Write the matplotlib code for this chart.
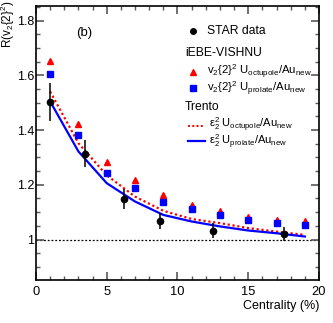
#!/usr/bin/env python3
# -*- coding: utf-8 -*-

import numpy as np
import matplotlib
matplotlib.use("Agg")
import matplotlib.pyplot as plt
from matplotlib.ticker import MultipleLocator, FixedLocator

plt.rcParams['font.family'] = ['Liberation Sans', 'DejaVu Sans']
plt.rcParams['mathtext.fontset'] = 'custom'
plt.rcParams['mathtext.rm'] = 'Liberation Sans'
plt.rcParams['mathtext.it'] = 'Liberation Sans:italic'
plt.rcParams['mathtext.bf'] = 'Liberation Sans:bold'

# STAR data
star_x = [1.0, 3.5, 6.25, 8.75, 12.5, 17.5]
star_y = [1.503, 1.314, 1.148, 1.068, 1.032, 1.020]
star_err = [0.070, 0.050, 0.037, 0.030, 0.027, 0.025]

# iEBE-VISHNU model points
model_x = [1, 3, 5, 7, 9, 11, 13, 15, 17, 19]
vish_oct = [1.651, 1.423, 1.282, 1.216, 1.163, 1.127, 1.104, 1.084, 1.073, 1.066]
vish_pro = [1.606, 1.383, 1.245, 1.189, 1.139, 1.111, 1.089, 1.072, 1.062, 1.054]

# Trento curves
trento_oct = [1.541, 1.352, 1.235, 1.157, 1.105, 1.075, 1.060, 1.042, 1.029, 1.017]
trento_pro = [1.505, 1.322, 1.206, 1.139, 1.090, 1.066, 1.048, 1.033, 1.023, 1.011]

RED = (1.0, 0.0, 0.0)
BLUE = (0.0, 0.0, 1.0)


def main():
    fig = plt.figure(figsize=(3.33, 3.23), dpi=100)
    ax = fig.add_axes([0.108, 0.133, 0.850, 0.848])

    ax.axhline(1.0, color='black', lw=0.9, ls=(0, (1.5, 1.5)), zorder=1)

    ax.plot(model_x, trento_oct, color=RED, lw=1.6, ls=(0, (1, 1.2)), zorder=2)
    ax.plot(model_x, trento_pro, color=BLUE, lw=1.6, zorder=2)

    ax.plot(model_x, vish_oct, ls='none', marker='^', ms=5, color=RED,
            mec=RED, zorder=3)
    ax.plot(model_x, vish_pro, ls='none', marker='s', ms=4.5, color=BLUE,
            mec=BLUE, zorder=4)

    ax.errorbar(star_x, star_y, yerr=star_err, fmt='o', ms=4.5, color='black',
                ecolor='black', elinewidth=1.1, capsize=0, zorder=5)

    ax.set_xlim(0, 20)
    ax.set_ylim(0.852, 1.853)
    ax.xaxis.set_major_locator(MultipleLocator(5))
    ax.xaxis.set_minor_locator(MultipleLocator(1))
    ax.yaxis.set_major_locator(FixedLocator([1.0, 1.2, 1.4, 1.6, 1.8]))
    ax.yaxis.set_minor_locator(MultipleLocator(0.05))
    ax.set_yticklabels(['1', '1.2', '1.4', '1.6', '1.8'])

    ax.tick_params(which='both', direction='in', top=True, right=True,
                   color='0.35', labelsize=9.3)
    ax.tick_params(which='major', length=6, width=1.2, pad=4)
    ax.tick_params(axis='y', which='major', pad=1.2, labelsize=9)
    ax.tick_params(which='minor', length=3, width=1.0)
    for sp in ax.spines.values():
        sp.set_linewidth(1.2)

    ax.set_xlabel('Centrality (%)', fontsize=9, loc='right', labelpad=2)
    ax.set_ylabel(r'R(v$_2${2}$^2$)', fontsize=8.4, loc='top')
    ax.yaxis.set_label_coords(-0.068, 1.02)

    ax.text(0.170, 0.901, '(b)', transform=ax.transAxes, fontsize=9.5,
            ha='center', va='center')

    # legend drawn by hand, ROOT style
    tr = ax.transAxes
    fs = 8.2
    ax.plot([0.555], [0.909], 'o', ms=4, color='black', transform=tr,
            clip_on=False)
    ax.text(0.604, 0.909, 'STAR data', transform=tr, fontsize=8.7, va='center')
    ax.text(0.527, 0.828, 'iEBE-VISHNU', transform=tr, fontsize=8.7,
            va='center')
    ax.plot([0.555], [0.759], '^', ms=4, color=RED, transform=tr)
    ax.text(0.604, 0.759, r'v$_2${2}$^2$ U$_{\mathrm{octupole}}$/Au$_{\mathrm{new}}$',
            transform=tr, fontsize=fs, va='center')
    ax.plot([0.555], [0.701], 's', ms=3.8, color=BLUE, transform=tr)
    ax.text(0.604, 0.699, r'v$_2${2}$^2$ U$_{\mathrm{prolate}}$/Au$_{\mathrm{new}}$',
            transform=tr, fontsize=fs, va='center')
    ax.text(0.527, 0.631, 'Trento', transform=tr, fontsize=8.7, va='center')
    ax.plot([0.537, 0.597], [0.562, 0.562], color=RED, lw=1.4,
            ls=(0, (1, 1.2)), transform=tr)
    ax.text(0.612, 0.567, r'$\mathrm{ε}_2^2$ U$_{\mathrm{octupole}}$/Au$_{\mathrm{new}}$',
            transform=tr, fontsize=8.0, va='center')
    ax.plot([0.537, 0.597], [0.507, 0.507], color=BLUE, lw=1.6, transform=tr)
    ax.text(0.612, 0.503, r'$\mathrm{ε}_2^2$ U$_{\mathrm{prolate}}$/Au$_{\mathrm{new}}$',
            transform=tr, fontsize=8.0, va='center')

    fig.savefig('out.png', dpi=100)


if __name__ == '__main__':
    main()
